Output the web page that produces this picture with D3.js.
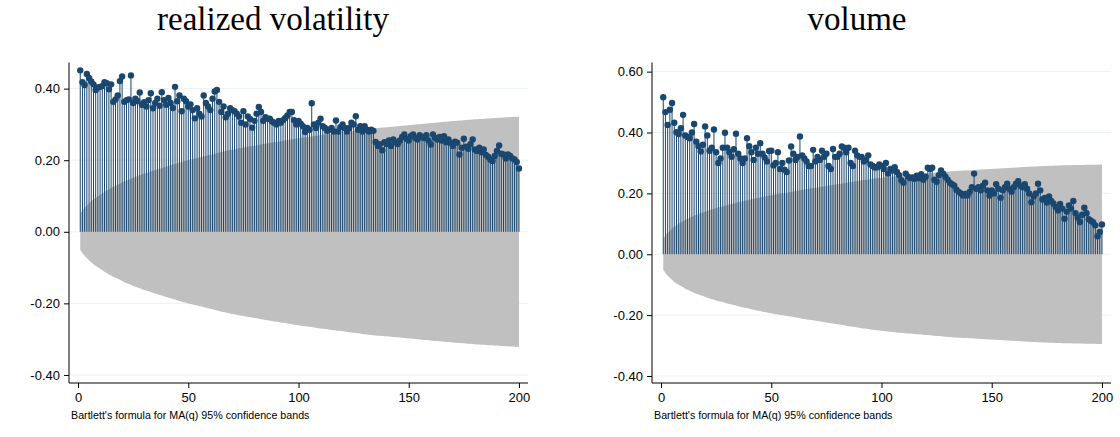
<!DOCTYPE html>
<html><head><meta charset="utf-8">
<script src="https://cdn.jsdelivr.net/npm/d3@7"></script>
<style>body{margin:0;background:#fff}svg{display:block}</style>
</head><body>
<script>
const titles = ["realized volatility", "volume"];
const note = "Bartlett's formula for MA(q) 95% confidence bands";
const lags = d3.range(1, 201);
const xTicks = [0, 50, 100, 150, 200];
const yTicksRV = [-0.4, -0.2, 0, 0.2, 0.4];
const yTicksVol = [-0.4, -0.2, 0, 0.2, 0.4, 0.6];
const nobs = [1500, 1510];

const acfRV = [
0.451,0.418,0.410,0.441,0.430,0.420,0.412,0.396,0.403,0.405,
0.407,0.418,0.415,0.398,0.412,0.363,0.370,0.381,0.421,0.434,
0.363,0.368,0.370,0.437,0.360,0.372,0.365,0.389,0.355,0.362,
0.350,0.368,0.387,0.345,0.360,0.372,0.352,0.390,0.368,0.355,
0.374,0.360,0.346,0.405,0.365,0.381,0.337,0.372,0.365,0.350,
0.356,0.340,0.317,0.345,0.330,0.322,0.381,0.360,0.350,0.340,
0.372,0.392,0.396,0.363,0.335,0.350,0.320,0.330,0.345,0.340,
0.337,0.330,0.322,0.305,0.337,0.300,0.322,0.315,0.291,0.310,
0.330,0.349,0.335,0.310,0.320,0.316,0.316,0.308,0.305,0.300,
0.310,0.305,0.312,0.318,0.325,0.335,0.335,0.312,0.300,0.310,
0.302,0.295,0.279,0.290,0.285,0.359,0.300,0.290,0.305,0.316,
0.295,0.290,0.282,0.285,0.290,0.280,0.311,0.280,0.292,0.300,
0.290,0.280,0.290,0.305,0.300,0.323,0.285,0.295,0.280,0.295,
0.285,0.280,0.285,0.282,0.251,0.240,0.245,0.228,0.250,0.245,
0.255,0.240,0.258,0.250,0.245,0.255,0.265,0.272,0.260,0.255,
0.268,0.272,0.262,0.258,0.270,0.265,0.262,0.270,0.255,0.244,
0.272,0.262,0.258,0.265,0.255,0.267,0.250,0.258,0.249,0.240,
0.252,0.249,0.216,0.235,0.260,0.238,0.232,0.245,0.258,0.230,
0.226,0.235,0.222,0.230,0.215,0.210,0.202,0.198,0.212,0.226,
0.241,0.218,0.216,0.205,0.216,0.212,0.205,0.202,0.195,0.177];

const acfVol = [
0.516,0.467,0.425,0.475,0.497,0.432,0.401,0.395,0.414,0.458,
0.390,0.385,0.381,0.400,0.428,0.370,0.355,0.338,0.360,0.420,
0.390,0.340,0.350,0.410,0.335,0.300,0.315,0.350,0.399,0.350,
0.335,0.320,0.345,0.396,0.330,0.315,0.300,0.315,0.381,0.355,
0.335,0.310,0.350,0.330,0.365,0.330,0.318,0.305,0.339,0.340,
0.292,0.300,0.335,0.280,0.300,0.278,0.270,0.308,0.354,0.330,
0.310,0.320,0.387,0.325,0.315,0.305,0.290,0.290,0.343,0.305,
0.320,0.310,0.340,0.320,0.330,0.290,0.280,0.346,0.320,0.320,
0.330,0.354,0.350,0.335,0.350,0.300,0.290,0.340,0.325,0.320,
0.320,0.305,0.310,0.325,0.295,0.290,0.285,0.286,0.295,0.290,
0.280,0.300,0.265,0.280,0.275,0.286,0.270,0.260,0.243,0.235,
0.265,0.255,0.250,0.252,0.248,0.258,0.250,0.263,0.245,0.255,
0.284,0.280,0.284,0.245,0.238,0.260,0.275,0.265,0.255,0.245,
0.235,0.230,0.225,0.212,0.205,0.200,0.193,0.198,0.193,0.205,
0.220,0.265,0.215,0.220,0.210,0.225,0.235,0.210,0.193,0.210,
0.200,0.230,0.215,0.186,0.210,0.220,0.232,0.215,0.205,0.220,
0.232,0.240,0.225,0.220,0.230,0.215,0.200,0.171,0.190,0.200,
0.232,0.210,0.180,0.185,0.170,0.190,0.175,0.167,0.155,0.144,
0.165,0.150,0.117,0.140,0.160,0.150,0.175,0.135,0.120,0.106,
0.130,0.153,0.135,0.115,0.110,0.105,0.095,0.059,0.073,0.098];

const NAVY = "#1a476f", BAND = "#c0c0c0", GRID = "#eaf2f3";

const svg = d3.select("body").append("svg").attr("width", 1120).attr("height", 437)
  .style("font-family", "'Liberation Sans', Arial, sans-serif");

const panels = [
  {title: titles[0], data: acfRV, yTicks: yTicksRV, n: nobs[0], left: 69, ydom: [-0.4225, 0.473], tx: 273},
  {title: titles[1], data: acfVol, yTicks: yTicksVol, n: nobs[1], left: 652, ydom: [-0.423, 0.63], tx: 857}
];

function bartlett(r, n) {
  let s = 0;
  return r.map(v => { const se = 1.96 * Math.sqrt((1 + 2 * s) / n); s += v * v; return se; });
}
const fmtY = d => d3.format(".2f")(d).replace("\u2212", "-");

panels.forEach(p => {
  const top = 62.5, bottom = 383, L = p.left, R = p.left + 459;
  const x = d3.scaleLinear().domain([-4.1, 204.1]).range([L, R]);
  const y = d3.scaleLinear().domain(p.ydom).range([bottom, top]);
  const g = svg.append("g");

  g.selectAll("line.grid").data(p.yTicks).join("line")
    .attr("x1", L).attr("x2", R).attr("y1", d => y(d)).attr("y2", d => y(d))
    .attr("stroke", GRID).attr("stroke-width", 1);

  const se = bartlett(p.data, p.n);
  const bandData = lags.map((l, i) => ({l, se: se[i]}));
  g.append("path").datum(bandData)
    .attr("d", d3.area().x(d => x(d.l)).y0(d => y(-d.se)).y1(d => y(d.se)))
    .attr("fill", BAND);

  g.selectAll("line.stem").data(p.data).join("line")
    .attr("x1", (d, i) => x(lags[i])).attr("x2", (d, i) => x(lags[i]))
    .attr("y1", y(0)).attr("y2", d => y(d))
    .attr("stroke", NAVY).attr("stroke-width", 1);

  g.selectAll("circle").data(p.data).join("circle")
    .attr("cx", (d, i) => x(lags[i])).attr("cy", d => y(d)).attr("r", 3.2)
    .attr("fill", NAVY);

  const ya = g.append("g").attr("transform", `translate(${L},0)`)
    .call(d3.axisLeft(y).tickValues(p.yTicks).tickFormat(fmtY).tickSize(5).tickPadding(4));
  ya.select(".domain").attr("d", `M0,${top}V${bottom}`);
  const xa = g.append("g").attr("transform", `translate(0,${bottom})`)
    .call(d3.axisBottom(x).tickValues(xTicks).tickFormat(d3.format("d")).tickSize(5).tickPadding(5));
  xa.select(".domain").attr("d", `M${L},0H${R}`);
  g.selectAll(".tick text").attr("font-size", 13).attr("font-family", "'Liberation Sans', Arial, sans-serif").attr("fill", "#000");
  g.selectAll(".domain, .tick line").attr("stroke", "#000");

  g.append("text").attr("x", L + 2).attr("y", 419).attr("font-size", 10.7).text(note);

  svg.append("text").attr("x", p.tx).attr("y", 30).attr("text-anchor", "middle")
    .attr("font-family", "'Liberation Serif', 'Times New Roman', serif").attr("font-size", 33)
    .text(p.title);
});
</script>
</body></html>
